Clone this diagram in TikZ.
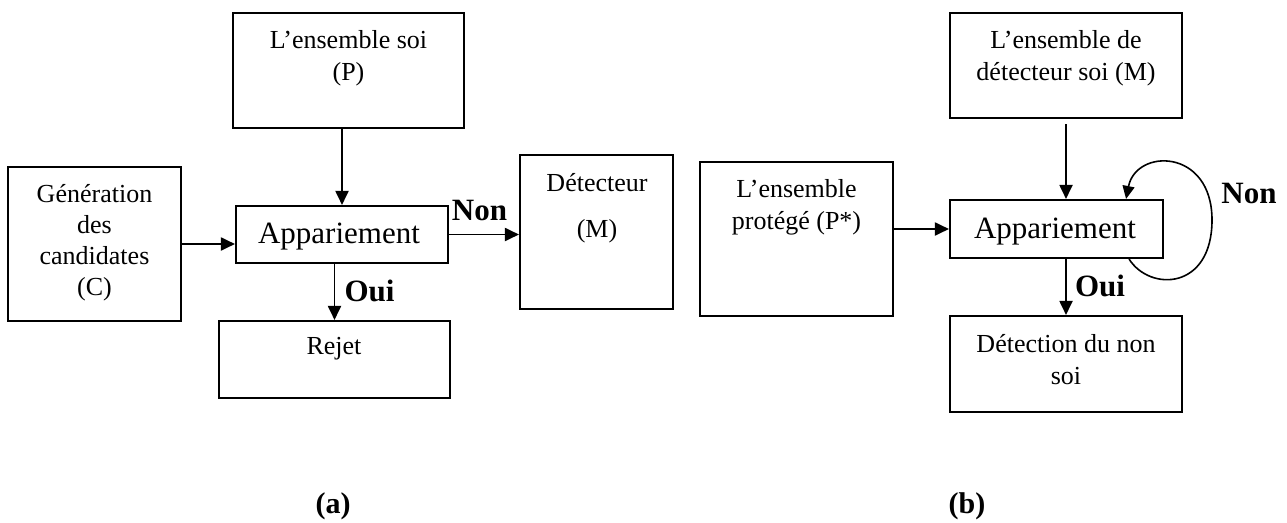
\documentclass[tikz,border=0pt]{standalone}
\usepackage{fontspec}
\setmainfont{Liberation Serif}
\usetikzlibrary{arrows.meta,calc}
\begin{document}
\begin{tikzpicture}[x=1pt,y=-1pt,
  boxst/.style={draw, line width=2.1pt, inner sep=0pt},
  txt/.style={font=\fontsize{26}{32}\selectfont, align=center, inner sep=0pt},
  bigtxt/.style={font=\fontsize{31}{36}\selectfont, inner sep=0pt},
  lab/.style={font=\fontsize{31}{36}\selectfont\bfseries, inner sep=0pt},
  captxt/.style={font=\fontsize{30}{36}\selectfont\bfseries, inner sep=0pt},
  arr/.style={line width=1.9pt, -{Triangle[length=14pt,width=13pt]}},
  looparr/.style={line width=1.6pt, -{Triangle[length=13pt,width=12pt]}}
]
\useasboundingbox (0,0) rectangle (1287,522);

% ---------- (a) ----------
\node[boxst, minimum width=231pt, minimum height=115pt] (P) at (348.5,70.5) {};
\node[txt] (Pt) at (348.5,58) {L’ensemble soi\\(P)};

\node[boxst, minimum width=173pt, minimum height=154pt] (C) at (94.5,244) {};
\node[txt, font=\fontsize{26}{31}\selectfont] (Ct) at (94.5,243) {Génération\\des\\candidates\\(C)};

\node[boxst, minimum width=212pt, minimum height=57pt] (A) at (342,234.5) {};
\node[bigtxt] (At) at (339,237) {Appariement};

\node[boxst, minimum width=231pt, minimum height=77pt] (R) at (334.5,359.5) {};
\node[txt] (Rt) at (334,349) {Rejet};

\node[boxst, minimum width=153pt, minimum height=154pt] (D) at (596.5,232) {};
\node[txt] (Dt1) at (597,183) {Détecteur};
\node[txt] (Dt2) at (597,231) {(M)};

\draw[arr] (A.north |- P.south) -- (A.north);
\draw[arr] (C.east) -- (C.east -| A.west);
\draw[arr] (A.east) -- (A.east -| D.west);
\draw[arr] (R.north |- A.south) -- (R.north);

\node[lab] (Non1) at (479.5,210) {Non};
\node[lab] (Oui1) at (369.5,291) {Oui};

\node[captxt] (capa) at (333,506) {(a)};

% ---------- (b) ----------
\node[boxst, minimum width=193pt, minimum height=154pt] (Ps) at (796.5,239) {};
\node[txt] (Pst) at (796.5,207) {L’ensemble\\protégé (P*)};

\node[boxst, minimum width=232pt, minimum height=105pt] (M) at (1066,65.5) {};
\node[txt] (Mt) at (1066,58) {L’ensemble de\\détecteur soi (M)};

\node[boxst, minimum width=213pt, minimum height=58pt] (B) at (1056.5,229) {};
\node[bigtxt] (Bt) at (1055,232) {Appariement};

\node[boxst, minimum width=232pt, minimum height=96pt] (N) at (1066,364) {};
\node[txt] (Nt) at (1066,359.5) {Détection du non\\soi};

\draw[arr] ($(M.south)+(0,5)$) -- (M.south |- B.north);
\draw[arr] (Ps.east |- B.west) -- (B.west);
\draw[arr] (N.north |- B.south) -- (N.north);

\coordinate (ls) at ($(B.south east)+(-35,0)$);
\coordinate (le) at ($(B.north east)+(-38,0)$);
\draw[looparr] (ls) .. controls (1150,292) and (1212,290) .. (1212,220)
  .. controls (1212,148) and (1136,148) .. (le);

\node[lab] (Non2) at (1249,193) {Non};
\node[lab] (Oui2) at (1100,286) {Oui};

\node[captxt] (capb) at (967,506) {(b)};
\end{tikzpicture}
\end{document}
